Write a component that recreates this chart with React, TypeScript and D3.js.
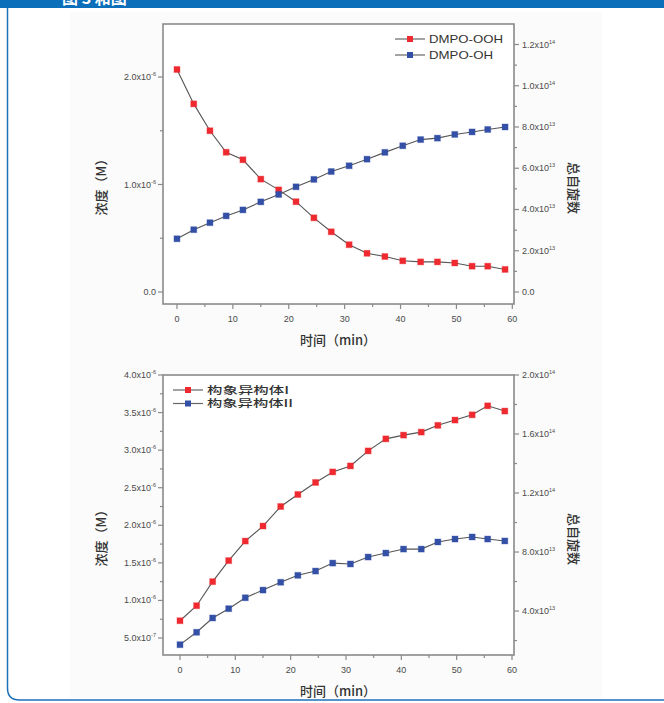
import React from 'react';
import * as d3 from 'd3';

// sampling times (min), shared by both panels
const times = [0, 3, 5.9, 8.8, 11.8, 15, 18.2, 21.3, 24.5, 27.6, 30.8, 34, 37.2, 40.4, 43.6, 46.6, 49.7, 52.8, 55.6, 58.7];

// top panel
const oohConc = [2.07, 1.75, 1.5, 1.3, 1.23, 1.05, 0.95, 0.84, 0.69, 0.56, 0.44, 0.36, 0.33, 0.29, 0.28, 0.28, 0.27, 0.24, 0.24, 0.21].map(v => v * 1e-6);
const ohSpins = [2.58, 3.02, 3.36, 3.69, 3.98, 4.37, 4.73, 5.1, 5.46, 5.84, 6.12, 6.44, 6.77, 7.09, 7.39, 7.46, 7.64, 7.76, 7.88, 8.0].map(v => v * 1e13);

// bottom panel
const isoIConc = [0.73, 0.93, 1.25, 1.53, 1.79, 1.99, 2.25, 2.41, 2.57, 2.71, 2.79, 2.99, 3.15, 3.2, 3.24, 3.33, 3.4, 3.47, 3.59, 3.52].map(v => v * 1e-6);
const isoIISpins = [1.72, 2.56, 3.53, 4.16, 4.9, 5.42, 5.95, 6.42, 6.71, 7.25, 7.19, 7.66, 7.93, 8.2, 8.2, 8.68, 8.88, 9.02, 8.88, 8.75].map(v => v * 1e13);

const xTicks = [0, 10, 20, 30, 40, 50, 60];
const xMinor = [5, 15, 25, 35, 45, 55];
const topLeftTicks = [0, 1e-6, 2e-6];
const topLeftMinor = [0.5e-6, 1.5e-6];
const topRightTicks = [0, 2e13, 4e13, 6e13, 8e13, 1e14, 1.2e14];
const topRightMinor = [1e13, 3e13, 5e13, 7e13, 9e13, 1.1e14];
const botLeftTicks = [0.5e-6, 1e-6, 1.5e-6, 2e-6, 2.5e-6, 3e-6, 3.5e-6, 4e-6];
const botLeftMinor = [0.75e-6, 1.25e-6, 1.75e-6, 2.25e-6, 2.75e-6, 3.25e-6, 3.75e-6];
const botRightTicks = [4e13, 8e13, 1.2e14, 1.6e14, 2e14];
const botRightMinor = [2e13, 6e13, 1e14, 1.4e14, 1.8e14];

const RED = '#ee2a30';
const BLUE = '#3350a6';
const AXIS = '#8a8a8a';
const TXT = '#4a4a4a';
const CJK = '"Noto Sans CJK SC", sans-serif';
const LAT = '"Liberation Sans", Arial, sans-serif';

function SciLabel({ v, x, y, anchor }: { v: number; x: number; y: number; anchor: 'start' | 'end' }) {
  if (v === 0) {
    return <text x={x} y={y} textAnchor={anchor} fontSize={9} fill={TXT} fontFamily={LAT}>0.0</text>;
  }
  const e = Math.floor(Math.log10(v) + 1e-9);
  const m = (v / Math.pow(10, e)).toFixed(1);
  return (
    <text x={x} y={y} textAnchor={anchor} fontSize={9} fill={TXT} fontFamily={LAT}>
      {`${m}x10`}
      <tspan fontSize={5.5} dy={-4}>{e}</tspan>
    </text>
  );
}

type PanelProps = {
  box: [number, number, number, number];
  xDomain: [number, number];
  leftDomain: [number, number];
  rightDomain: [number, number];
  leftTicks: number[];
  leftMinor: number[];
  rightTicks: number[];
  rightMinor: number[];
  red: number[];
  blue: number[];
  legend: string[];
  legendWidths: number[];
  legendPos: [number, number, number];
  legendFont: number;
  titleY: number;
};

function Panel(p: PanelProps) {
  const [x0, y0, x1, y1] = p.box;
  const x = d3.scaleLinear().domain(p.xDomain).range([x0, x1]);
  const yl = d3.scaleLinear().domain(p.leftDomain).range([y1, y0]);
  const yr = d3.scaleLinear().domain(p.rightDomain).range([y1, y0]);
  const lineL = d3.line<number>().x((_, i) => x(times[i])).y(d => yl(d));
  const lineR = d3.line<number>().x((_, i) => x(times[i])).y(d => yr(d));
  const [lx, ly, lgap] = p.legendPos;
  const midY = (y0 + y1) / 2;

  const markers = (vals: number[], sc: d3.ScaleLinear<number, number>, color: string) =>
    vals.map((d, i) => (
      <rect key={i} x={x(times[i]) - 3} y={sc(d) - 3} width={6} height={6} fill={color} stroke={color} strokeOpacity={0.35} strokeWidth={1} />
    ));

  return (
    <g>
      <rect x={x0} y={y0} width={x1 - x0} height={y1 - y0} fill="#fff" stroke={AXIS} strokeWidth={1.6} />
      {/* x axis */}
      {xTicks.map(t => (
        <g key={'x' + t}>
          <line x1={x(t)} x2={x(t)} y1={y1} y2={y1 + 5} stroke={AXIS} strokeWidth={1.2} />
          <text x={x(t)} y={y1 + 18} textAnchor="middle" fontSize={9} fill={TXT} fontFamily={LAT}>{t}</text>
        </g>
      ))}
      {xMinor.map(t => (
        <line key={'xm' + t} x1={x(t)} x2={x(t)} y1={y1} y2={y1 + 3} stroke={AXIS} strokeWidth={1.2} />
      ))}
      {/* left axis */}
      {p.leftTicks.map(t => (
        <g key={'l' + t}>
          <line x1={x0 - 5} x2={x0} y1={yl(t)} y2={yl(t)} stroke={AXIS} strokeWidth={1.2} />
          <SciLabel v={t} x={x0 - 7} y={yl(t) + 3} anchor="end" />
        </g>
      ))}
      {p.leftMinor.map(t => (
        <line key={'lm' + t} x1={x0 - 3} x2={x0} y1={yl(t)} y2={yl(t)} stroke={AXIS} strokeWidth={1.2} />
      ))}
      {/* right axis */}
      {p.rightTicks.map(t => (
        <g key={'r' + t}>
          <line x1={x1} x2={x1 + 5} y1={yr(t)} y2={yr(t)} stroke={AXIS} strokeWidth={1.2} />
          <SciLabel v={t} x={x1 + 8} y={yr(t) + 3} anchor="start" />
        </g>
      ))}
      {p.rightMinor.map(t => (
        <line key={'rm' + t} x1={x1} x2={x1 + 3} y1={yr(t)} y2={yr(t)} stroke={AXIS} strokeWidth={1.2} />
      ))}
      {/* titles */}
      <text x={338} y={p.titleY} textAnchor="middle" fontSize={13} fill="#333" fontFamily={CJK} fontWeight={500}>时间（min）</text>
      <text transform={`translate(106,${midY + 20}) rotate(-90)`} textAnchor="middle" fontSize={13} fill="#333" fontFamily={CJK} fontWeight={500}>浓度（M）</text>
      <text transform={`translate(569,${midY + 24}) rotate(90)`} textAnchor="middle" fontSize={13} fill="#333" fontFamily={CJK} fontWeight={500}>总自旋数</text>
      {/* series */}
      <path d={lineL(p.red) ?? ''} fill="none" stroke="#555" strokeWidth={1.1} />
      <path d={lineR(p.blue) ?? ''} fill="none" stroke="#555" strokeWidth={1.1} />
      {markers(p.red, yl, RED)}
      {markers(p.blue, yr, BLUE)}
      {/* legend */}
      {[RED, BLUE].map((c, i) => {
        const cjk = /[\u4e00-\u9fff]/.test(p.legend[i]);
        return (
          <g key={'lg' + i}>
            <line x1={lx} x2={lx + 30} y1={ly + i * lgap} y2={ly + i * lgap} stroke="#666" strokeWidth={1.2} />
            <rect x={lx + 12} y={ly + i * lgap - 3} width={6} height={6} fill={c} />
            <text x={lx + 34} y={ly + i * lgap + p.legendFont * 0.38} fontSize={p.legendFont} fill="#333"
              fontFamily={cjk ? CJK : LAT} fontWeight={cjk ? 500 : 400}
              textLength={p.legendWidths[i]} lengthAdjust="spacingAndGlyphs">{p.legend[i]}</text>
          </g>
        );
      })}
    </g>
  );
}

export default function App() {
  return (
    <svg width={664} height={703} style={{ position: 'absolute', left: 0, top: 0 }}>
      <rect x={0} y={0} width={664} height={703} fill="#fff" />
      <path d="M7.5,8 L7.5,688 Q7.5,700 19.5,700 L664,700" fill="none" stroke="#1c71b8" strokeWidth={1.5} />
      <rect x={0} y={0} width={664} height={8} fill="#0b6fba" />
      <text x={62} y={4} fontSize={16} fill="#fff" fontFamily={CJK} fontWeight={700}>图 3 和图</text>
      <rect x={70} y={12} width={532} height={686} fill="#fbfbfb" />
      <Panel
        box={[163, 24, 514, 304]}
        xDomain={[-2.5, 60.3]}
        leftDomain={[-0.1116e-6, 2.493e-6]}
        rightDomain={[-0.582e13, 1.2994e14]}
        leftTicks={topLeftTicks}
        leftMinor={topLeftMinor}
        rightTicks={topRightTicks}
        rightMinor={topRightMinor}
        red={oohConc}
        blue={ohSpins}
        legend={['DMPO-OOH', 'DMPO-OH']}
        legendWidths={[74, 64]}
        legendPos={[395, 39, 16]}
        legendFont={11.5}
        titleY={345}
      />
      <Panel
        box={[163, 375, 514, 655]}
        xDomain={[-3.07, 60.36]}
        leftDomain={[0.274e-6, 4e-6]}
        rightDomain={[1.02e13, 2e14]}
        leftTicks={botLeftTicks}
        leftMinor={botLeftMinor}
        rightTicks={botRightTicks}
        rightMinor={botRightMinor}
        red={isoIConc}
        blue={isoIISpins}
        legend={['构象异构体I', '构象异构体II']}
        legendWidths={[82, 86]}
        legendPos={[173, 390, 13.5]}
        legendFont={10.5}
        titleY={696}
      />
    </svg>
  );
}
